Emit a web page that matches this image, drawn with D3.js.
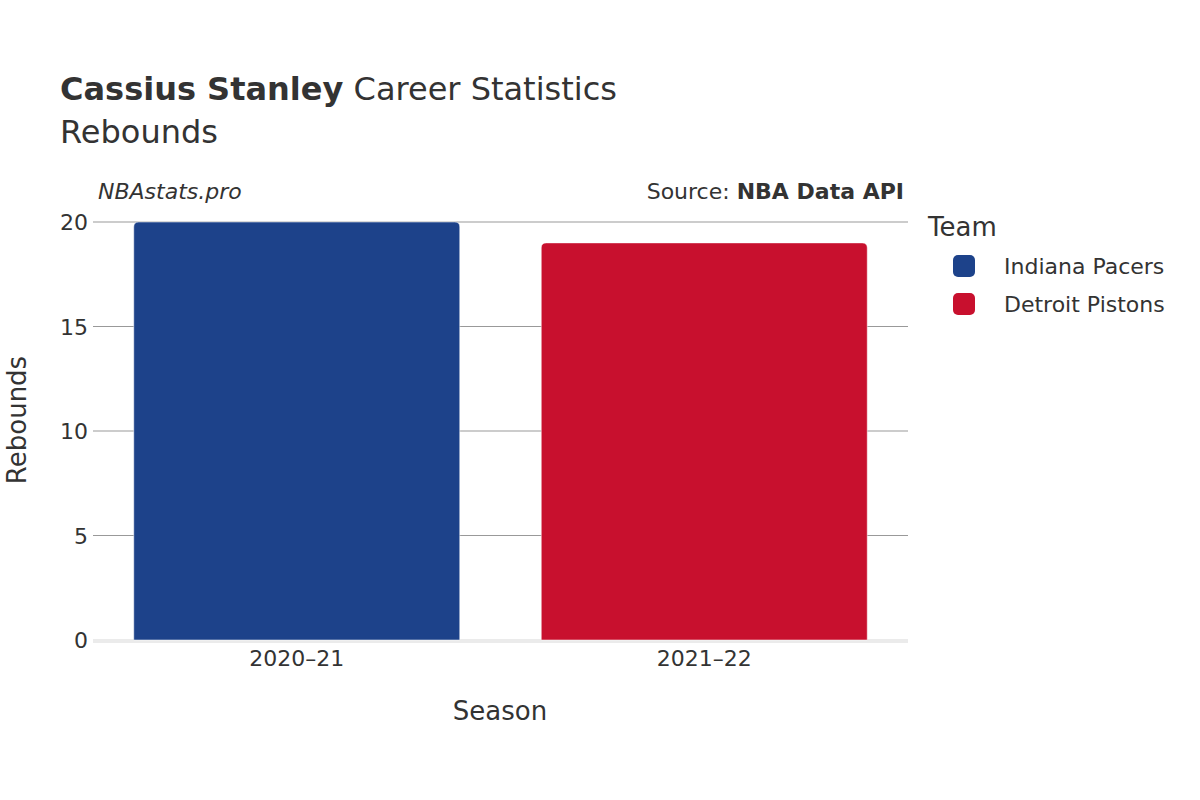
<!DOCTYPE html>
<html><head><meta charset="utf-8">
<script src="https://cdn.jsdelivr.net/npm/d3@7"></script>
<style>body{margin:0;background:#fff}text{font-family:"DejaVu Sans",sans-serif;fill:#333}</style>
</head><body><svg id="c" width="1200" height="800"></svg>
<script>
const seasons = ["2020–21", "2021–22"];
const teams = ["Indiana Pacers", "Detroit Pistons"];
const rebounds = [20, 19];
const colors = ["#1d428a", "#c8102e"];
const yTicks = [0, 5, 10, 15, 20];

const svg = d3.select("#c");
const x = d3.scaleBand().domain(seasons).range([93, 908]).paddingInner(0.2).paddingOuter(0.1);
const y = d3.scaleLinear().domain([0, 20]).range([640, 222]);

// grid
svg.append("g").selectAll("line").data(yTicks.filter(d => d > 0)).join("line")
  .attr("x1", 93).attr("x2", 908).attr("y1", d => y(d)).attr("y2", d => y(d))
  .attr("stroke", "#999").attr("stroke-width", 1);
svg.append("line").attr("x1", 93).attr("x2", 908).attr("y1", y(0) + 1).attr("y2", y(0) + 1)
  .attr("stroke", "#ebebeb").attr("stroke-width", 4);

svg.append("g").selectAll("text").data(yTicks).join("text")
  .attr("x", 88).attr("y", d => y(d) + 8).attr("text-anchor", "end")
  .attr("font-size", 22).text(d => d);

// bars with rounded top corners
const r = 5;
svg.append("g").selectAll("path").data(seasons).join("path")
  .attr("d", (s, i) => {
    const x0 = x(s), x1 = x(s) + x.bandwidth(), yt = y(rebounds[i]), yb = y(0);
    return `M${x0},${yb}V${yt + r}Q${x0},${yt} ${x0 + r},${yt}H${x1 - r}Q${x1},${yt} ${x1},${yt + r}V${yb}Z`;
  })
  .attr("fill", (s, i) => colors[i]).attr("stroke", "#fff").attr("stroke-opacity", 0.5).attr("stroke-width", 1);

svg.append("g").selectAll("text").data(seasons).join("text")
  .attr("x", d => x(d) + x.bandwidth() / 2).attr("y", 666).attr("text-anchor", "middle")
  .attr("font-size", 22).text(d => d);

svg.append("text").attr("x", 500).attr("y", 720).attr("text-anchor", "middle").attr("font-size", 26).text("Season");
svg.append("text").attr("transform", "translate(26,420) rotate(-90)").attr("text-anchor", "middle").attr("font-size", 26).text("Rebounds");

// titles
const t = svg.append("text").attr("x", 60).attr("y", 100).attr("font-size", 32);
t.append("tspan").attr("font-weight", "bold").text("Cassius Stanley");
t.append("tspan").text(" Career Statistics");
svg.append("text").attr("x", 60).attr("y", 143).attr("font-size", 32).text("Rebounds");
svg.append("text").attr("x", 98).attr("y", 199).attr("font-size", 22).attr("font-style", "italic").text("NBAstats.pro");
const s = svg.append("text").attr("x", 904).attr("y", 199).attr("font-size", 22).attr("text-anchor", "end");
s.append("tspan").text("Source: ");
s.append("tspan").attr("font-weight", "bold").text("NBA Data API");

// legend
svg.append("text").attr("x", 928).attr("y", 236).attr("font-size", 26).text("Team");
const lg = svg.append("g").selectAll("g").data(teams).join("g")
  .attr("transform", (d, i) => `translate(953,${255 + i * 38})`);
lg.append("rect").attr("width", 22).attr("height", 22).attr("rx", 5).attr("fill", (d, i) => colors[i]);
lg.append("text").attr("x", 51).attr("y", 19).attr("font-size", 22).text(d => d);
</script></body></html>
